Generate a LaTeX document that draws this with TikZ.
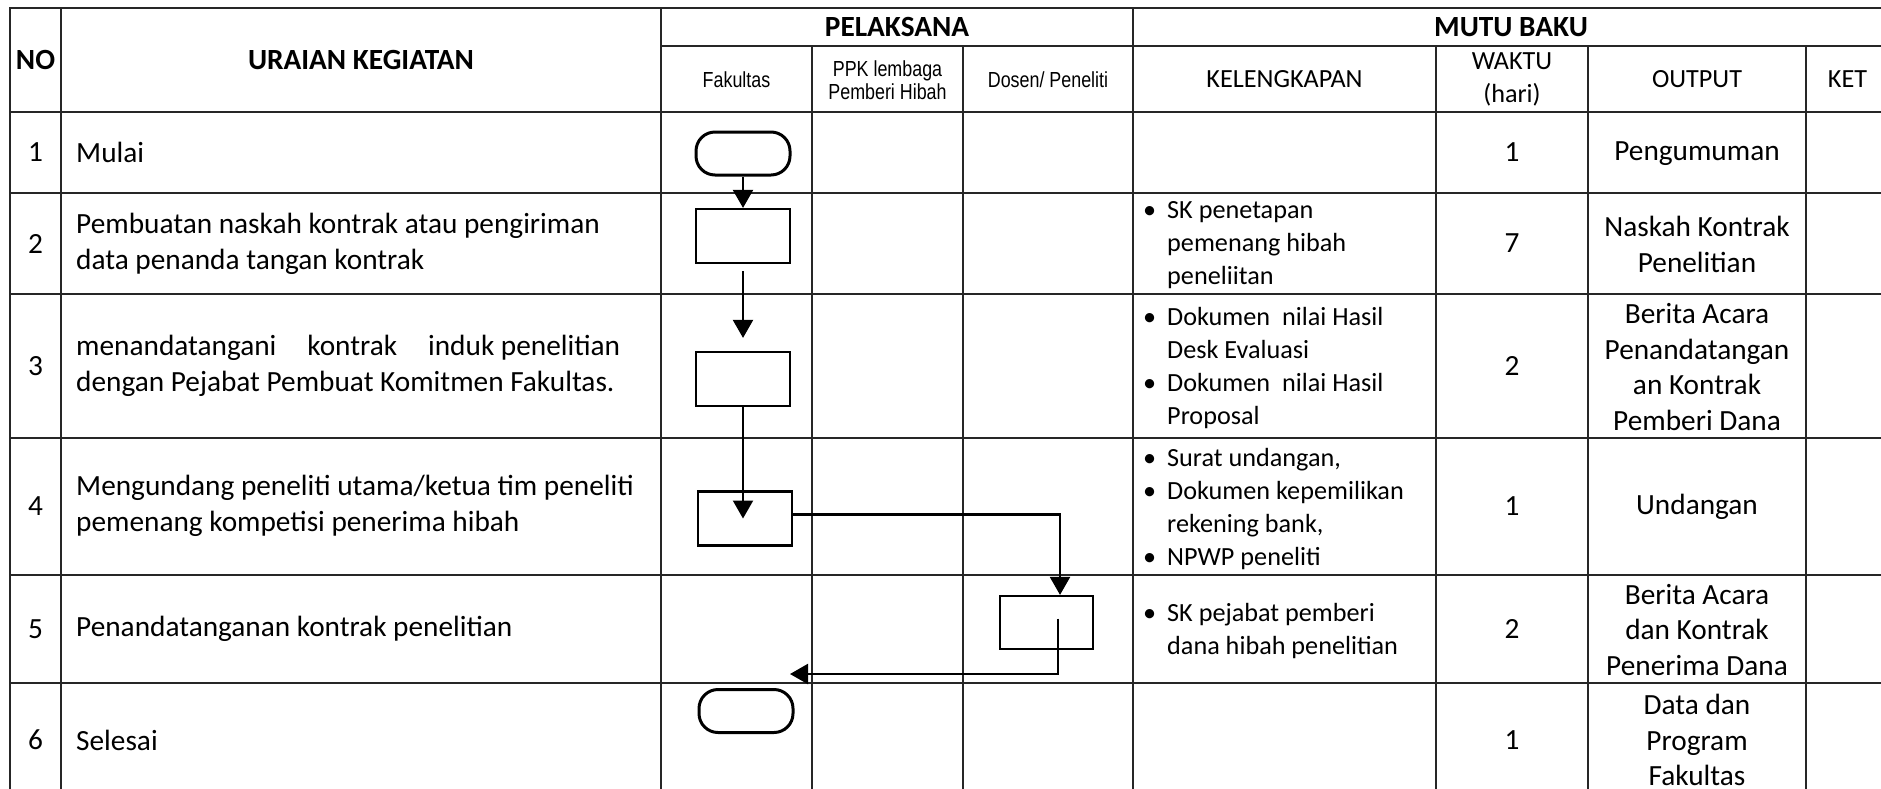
\documentclass[tikz,border=0pt]{standalone}
\usepackage{fontspec}
\setmainfont{Carlito}
\newfontfamily\arialfont[FakeStretch=0.82]{Liberation Sans}
\usetikzlibrary{positioning}
\usetikzlibrary{arrows.meta}

\newcommand{\hurufbesar}{\fontsize{29.3}{35.7}\selectfont}
\newcommand{\hurufsedang}{\fontsize{26.2}{33}\selectfont}
\newcommand{\hurufarial}{\arialfont\fontsize{21.8}{22.5}\selectfont}
\newcommand{\butir}{\makebox[24pt][l]{\textbullet}}
\newcommand{\lanjut}{\hspace*{24pt}}

\begin{document}
\begin{tikzpicture}[x=1pt, y=-1pt,
		garis/.style={line width=1.2pt, black!85, line cap=rect},
		teks/.style={inner sep=0pt, font=\hurufbesar},
		proses/.style={draw, line width=2.2pt, minimum width=94pt, minimum height=54pt, inner sep=0pt},
		terminal/.style={draw, line width=3pt, rounded corners=19pt, minimum width=94pt, minimum height=43pt, inner sep=0pt},
		panah/.style={line width=2.2pt, -{Triangle[length=18pt,width=20pt]}}]
			\useasboundingbox (0,0) rectangle (1881,788);
			\clip (0,0) rectangle (1881,788);
			\fill[white] (0,0) rectangle (1881,788);
			
			\draw[garis] (10,8) -- (1889,8);
			\draw[garis] (661,46) -- (1889,46);
			\foreach \y in {112,193,294,438,575,683,797}
				\draw[garis] (10,\y) -- (1889,\y);
			\foreach \x in {10,61,661,1133,1889}
				\draw[garis] (\x,8) -- (\x,797);
			\foreach \x in {812,963,1436,1588,1806}
				\draw[garis] (\x,46) -- (\x,797);
			
			\node[teks, font=\hurufbesar\bfseries] (hNo) at (35.5,60) {NO};
			\node[teks, font=\hurufbesar\bfseries] (hUraian) at (361,60) {URAIAN KEGIATAN};
			\node[teks, font=\hurufbesar\bfseries] (hPelaksana) at (897,27) {PELAKSANA};
			\node[teks, font=\hurufbesar\bfseries] (hMutu) at (1511,27) {MUTU BAKU};
			\node[teks, font=\hurufarial] (hFakultas) at (736.5,80) {Fakultas};
			\node[teks, font=\hurufarial, align=center] (hPPK) at (887.5,80) {PPK lembaga\\Pemberi Hibah};
			\node[teks, font=\hurufarial] (hDosen) at (1048,80) {Dosen/ Peneliti};
			\node[teks, font=\hurufsedang] (hKelengkapan) at (1284.5,79) {KELENGKAPAN};
			\node[teks, font=\hurufsedang, align=center] (hWaktu) at (1512,79) {WAKTU\\(hari)};
			\node[teks, font=\hurufsedang] (hOutput) at (1697,79) {OUTPUT};
			\node[teks, font=\hurufsedang] (hKet) at (1847.5,79) {KET};
			
			\foreach \n/\y/\w in {1/152.5/1, 2/243.5/7, 3/366/2, 4/506/1, 5/629/2, 6/740/1} {
				\node[teks] (no\n) at (35.5,\y) {\n};
				\node[teks] (waktu\n) at (1512,\y) {\w};
			}
			
			\node[teks, anchor=west] (uraian1) at (76,152.5) {Mulai};
			\node[teks, anchor=west, align=left] (uraian2) at (76,243.5) {Pembuatan naskah kontrak atau pengiriman\\data penanda tangan kontrak};
			\node[teks, anchor=west, align=left] (uraian3) at (76,366) {\makebox[544pt][l]{menandatangani\hfill kontrak\hfill induk penelitian}\\dengan Pejabat Pembuat Komitmen Fakultas.};
			\node[teks, anchor=west, align=left] (uraian4) at (76,506) {Mengundang peneliti utama/ketua tim peneliti\\pemenang kompetisi penerima hibah};
			\node[teks, anchor=west] (uraian5) at (76,629) {Penandatanganan kontrak penelitian};
			\node[teks, anchor=west] (uraian6) at (76,740) {Selesai};
			
			\node[teks, font=\hurufsedang, anchor=west, align=left] (lengkap2) at (1143,245.5) {\butir SK penetapan\\\lanjut pemenang hibah\\\lanjut peneliitan};
			\node[teks, font=\hurufsedang, anchor=west, align=left] (lengkap3) at (1143,368.5) {\butir Dokumen~~nilai Hasil\\\lanjut Desk Evaluasi\\\butir Dokumen~~nilai Hasil\\\lanjut Proposal};
			\node[teks, font=\hurufsedang, anchor=west, align=left] (lengkap4) at (1143,509) {\butir Surat undangan,\\\butir Dokumen kepemilikan\\\lanjut rekening bank,\\\butir NPWP peneliti};
			\node[teks, font=\hurufsedang, anchor=west, align=left] (lengkap5) at (1143,631) {\butir SK pejabat pemberi\\\lanjut dana hibah penelitian};
			
			\node[teks] (output1) at (1697,154) {Pengumuman};
			\node[teks, align=center] (output2) at (1697,244.5) {Naskah Kontrak\\Penelitian};
			\node[teks, align=center] (output3) at (1697,367) {Berita Acara\\Penandatangan\\an Kontrak\\Pemberi Dana};
			\node[teks] (output4) at (1697,507) {Undangan};
			\node[teks, align=center] (output5) at (1697,630) {Berita Acara\\dan Kontrak\\Penerima Dana};
			\node[teks, align=center] (output6) at (1697,740) {Data dan\\Program\\Fakultas};
			
			\node[terminal] (mulai) at (743,153.5) {};
			\node[proses] (buat) at (743,236) {};
			\node[proses] (tandatangan) at (743,379) {};
			\node[proses] (undang) at (745,518.5) {};
			\node[proses, minimum height=53pt, minimum width=93pt] (kontrak) at (1046.5,622.5) {};
			\node[terminal] (selesai) at (746,711) {};
			\coordinate (balik) at (790,674);
			
			\draw[panah] (mulai) -- (buat);
			\draw[panah, shorten <=7pt, shorten >=13pt] (buat) -- (tandatangan);
			\draw[panah] (tandatangan.south) -- (tandatangan.south |- undang.center);
			\draw[panah] ([yshift=4pt]undang.east) -| ([xshift=13.5pt]kontrak.north);
			\draw[panah] ([xshift=11.5pt,yshift=4pt]kontrak.center) |- (balik);
\end{tikzpicture}
\end{document}
